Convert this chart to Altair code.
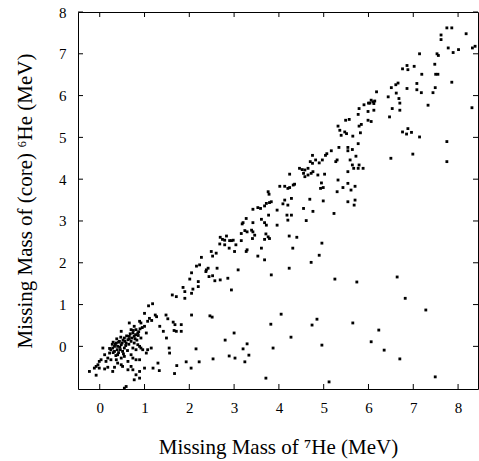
import altair as alt
import pandas as pd

# Tick values
x_ticks = [0, 1, 2, 3, 4, 5, 6, 7, 8]
y_ticks = [0, 1, 2, 3, 4, 5, 6, 7, 8]

# Events: (Missing Mass of 7He, Missing Mass of core 6He) in MeV
pts_cluster = [
    (1.62, 1.23), (1.71, 1.19), (1.09, 0.97), (1.18, 1.02), (1.00, 0.79), (1.11, 0.67),
    (1.16, 0.62), (1.24, 0.75), (1.27, 0.71), (1.48, 0.75), (1.52, 0.66), (1.64, 0.58),
    (1.68, 0.52), (0.66, 0.56), (0.92, 0.56), (0.89, 0.60), (0.77, 0.48), (1.00, 0.48),
    (1.07, 0.60), (0.48, 0.36), (0.70, 0.40), (0.74, 0.32), (0.81, 0.40), (0.85, 0.32),
    (0.77, 0.24), (1.34, 0.48), (1.42, 0.36), (1.49, 0.20), (1.55, -0.04), (1.56, -0.16),
    (1.71, 0.36), (1.66, 0.38), (1.82, 0.36), (1.82, 0.52), (1.72, -0.46), (1.67, -0.65),
    (1.04, 0.32), (0.92, 0.20), (0.55, 0.20), (0.63, 0.16), (0.66, 0.24), (0.70, 0.12),
    (0.59, 0.08), (0.44, 0.12), (0.37, 0.08), (0.40, 0.00), (0.33, 0.00), (0.29, -0.04),
    (0.48, 0.04), (0.39, -0.08), (0.46, -0.08), (0.55, -0.04), (0.51, -0.12), (0.25, -0.08),
    (0.22, -0.16), (0.33, -0.12), (0.77, 0.08), (0.85, 0.04), (0.89, 0.00), (0.74, -0.04),
    (0.81, -0.08), (0.92, -0.04), (0.96, -0.08), (1.07, -0.08), (1.04, -0.16), (0.07, -0.04),
    (0.11, -0.20), (0.18, -0.28), (0.25, -0.32), (0.14, -0.36), (0.03, -0.32), (-0.01, -0.36),
    (-0.04, -0.44), (-0.08, -0.48), (-0.12, -0.52), (-0.01, -0.52), (0.40, -0.20), (0.48, -0.28),
    (0.37, -0.32), (0.55, -0.24), (0.63, -0.36), (0.70, -0.20), (0.74, -0.28), (0.81, -0.32),
    (0.89, -0.32), (0.40, -0.40), (0.48, -0.44), (0.51, -0.48), (0.70, -0.48), (0.63, -0.56),
    (1.30, -0.40), (1.33, -0.58), (1.00, -0.52), (0.89, -0.60), (0.74, -0.56), (0.81, -0.68),
    (0.77, -0.80), (0.89, -0.76), (1.15, -0.04), (1.19, -0.52), (0.29, -0.60), (0.18, -0.50),
    (0.33, -0.50), (0.11, -0.54), (-0.23, -0.60), (-0.08, -0.69), (0.59, -0.96), (0.55, -1.00),
    (0.35, 0.05), (0.42, 0.10), (0.45, -0.02), (0.50, 0.08), (0.52, 0.15), (0.58, 0.02),
    (0.60, 0.25), (0.65, 0.05), (0.68, 0.30), (0.72, 0.20), (0.75, 0.38), (0.80, 0.28),
    (0.83, 0.15), (0.87, 0.35), (0.90, 0.42), (0.30, 0.10), (0.38, 0.18), (0.28, 0.05),
    (0.22, -0.05), (0.42, -0.15), (0.56, 0.12), (0.62, -0.10), (0.66, 0.18), (0.79, 0.18),
    (0.86, 0.26), (0.95, 0.45), (0.53, -0.18), (0.47, 0.22), (0.36, -0.22), (0.30, -0.15),
]

pts_lowband = [
    (3.42, 3.28), (3.53, 3.32), (3.59, 3.30), (3.68, 3.36), (3.72, 3.42), (3.79, 3.44),
    (3.83, 3.46), (3.77, 3.14), (3.96, 3.26), (3.61, 3.04), (3.27, 3.06), (3.20, 2.96),
    (3.18, 2.93), (3.42, 2.96), (3.68, 2.96), (3.72, 2.90), (3.96, 2.90), (3.24, 2.77),
    (3.29, 2.74), (3.39, 2.78), (3.42, 2.74), (3.46, 2.66), (3.16, 2.70), (3.41, 2.58),
    (3.71, 2.69), (3.76, 2.62), (3.68, 2.56), (3.79, 2.58), (2.69, 2.61), (2.74, 2.56),
    (2.83, 2.64), (2.79, 2.54), (2.90, 2.53), (2.94, 2.53), (2.98, 2.54), (2.68, 2.45),
    (2.79, 2.43), (2.89, 2.35), (3.04, 2.43), (3.16, 2.53), (3.01, 2.27), (3.27, 2.27),
    (3.29, 2.31), (3.61, 2.35), (3.53, 2.16), (3.68, 2.07), (3.83, 1.71), (2.49, 2.27),
    (2.60, 2.23), (2.52, 2.16), (2.27, 2.13), (2.16, 1.92), (2.23, 1.95), (2.37, 1.79),
    (2.38, 1.83), (2.42, 1.87), (2.62, 1.87), (3.09, 1.83), (2.05, 1.76), (2.52, 1.69),
    (2.44, 1.67), (2.57, 1.57), (2.69, 1.59), (2.86, 1.63), (2.01, 1.61), (2.20, 1.55),
    (2.08, 1.37), (2.20, 1.43), (1.86, 1.41), (1.90, 1.31), (2.94, 1.35), (1.90, 1.15),
    (2.05, 1.27),
]

pts_lower = [
    (2.05, 0.75), (2.46, 0.73), (2.51, 0.70), (3.00, 0.32), (2.80, 0.15), (3.29, 0.06),
    (3.20, -0.06), (3.33, -0.21), (3.24, -0.37), (3.02, -0.28), (2.89, -0.23), (2.53, -0.30),
    (2.22, -0.37), (1.93, -0.37), (2.15, -0.06), (2.04, -0.52), (3.71, -0.76), (3.82, 0.53),
    (4.05, 0.77), (4.27, 0.22), (3.87, -0.04), (4.90, 2.18), (4.72, 2.01), (4.23, 1.87),
    (5.25, 1.61), (5.74, 1.54), (6.64, 1.66), (6.82, 1.15), (7.28, 0.87), (4.85, 0.65),
    (4.74, 0.51), (5.65, 0.56), (6.23, 0.39), (4.96, 0.03), (6.06, 0.11), (6.35, -0.09),
    (6.70, -0.30), (5.12, -0.85), (7.49, -0.73),
]

pts_midband = [
    (4.23, 2.64), (4.40, 2.61), (4.31, 2.35), (4.96, 2.47), (5.23, 3.18), (4.76, 3.23),
    (4.61, 3.01), (4.18, 3.14), (4.28, 3.14), (4.20, 3.02),
    (5.49, 5.41), (5.57, 5.43), (5.32, 5.27), (5.36, 5.17), (5.39, 5.05), (5.47, 5.13),
    (5.51, 5.09), (5.34, 4.76), (5.54, 4.76), (5.54, 4.68), (5.17, 4.68), (5.07, 4.61),
    (5.04, 4.57), (4.97, 4.46), (4.90, 4.39), (4.82, 4.46), (4.75, 4.57), (4.70, 4.42),
    (4.75, 4.38), (5.27, 4.42), (5.30, 4.46), (4.65, 4.26), (4.58, 4.22), (4.46, 4.26),
    (4.52, 4.23), (4.55, 4.14), (4.58, 4.06), (4.65, 4.10), (4.72, 4.14), (4.76, 4.18),
    (4.87, 4.10), (5.02, 4.12), (4.24, 4.12), (4.95, 3.91), (4.99, 3.80), (4.93, 3.78),
    (5.32, 3.98), (5.54, 3.90), (5.54, 4.18), (5.30, 3.70), (5.43, 3.80), (4.35, 3.88),
    (4.32, 3.86), (4.24, 3.80), (4.20, 3.78), (4.13, 3.83), (4.02, 3.83), (3.76, 3.70),
    (3.78, 3.64), (4.13, 3.50), (4.28, 3.54), (4.09, 3.41), (4.20, 3.38), (4.69, 3.52),
    (4.99, 3.48), (4.55, 3.30), (5.54, 3.46),
]

pts_upper = [
    (7.14, 7.00), (7.53, 7.00), (7.56, 6.96), (7.48, 6.75), (6.76, 6.64), (6.86, 6.72),
    (6.88, 6.62), (7.02, 6.70), (7.19, 6.51), (7.50, 6.51), (7.55, 6.51), (6.66, 6.30),
    (6.61, 6.26), (6.51, 6.19), (7.08, 6.29), (7.08, 6.14), (7.18, 6.07), (7.49, 6.19),
    (7.44, 6.07), (6.86, 6.17), (6.18, 6.09), (6.62, 6.06), (6.68, 5.93), (6.70, 5.82),
    (6.44, 5.97), (6.06, 5.89), (6.10, 5.85), (6.03, 5.82), (6.12, 5.81), (6.14, 5.87),
    (5.90, 5.78), (6.00, 5.82), (5.79, 5.69), (6.53, 5.69), (6.70, 5.65), (7.33, 5.77),
    (5.99, 5.62), (6.12, 5.65), (5.77, 5.55), (6.47, 5.49), (5.99, 5.41), (6.06, 5.38),
    (5.84, 5.31), (5.79, 5.27), (5.82, 5.11), (5.65, 5.03), (5.77, 4.85), (5.64, 4.71),
    (6.76, 5.13), (6.85, 5.08), (6.96, 5.12), (6.88, 5.21), (7.14, 5.01),
    (7.75, 7.62), (7.86, 7.62), (7.62, 7.45), (7.62, 7.34), (8.18, 7.48), (7.78, 7.14),
    (8.01, 7.10), (7.89, 7.03), (8.32, 7.14), (8.38, 7.18), (7.86, 6.32), (8.31, 5.71),
    (5.72, 4.55), (5.59, 4.46), (5.64, 4.34), (5.67, 4.26), (5.77, 4.26), (5.79, 4.34),
    (5.88, 4.26), (5.70, 3.83), (5.61, 3.74), (5.70, 3.50), (5.68, 3.38), (6.50, 4.50),
    (6.99, 4.60), (7.75, 4.90), (7.75, 4.42),
]

all_pts = pts_cluster + pts_lowband + pts_lower + pts_midband + pts_upper
df = pd.DataFrame(all_pts, columns=["mm7", "mm6"])
xt = pd.DataFrame({"mm7": x_ticks})
yt = pd.DataFrame({"mm6": y_ticks})

W, H = 400, 377
TL = 5
FONT = "Liberation Serif"

xscale = alt.Scale(domain=[-0.485, 8.445], nice=False, zero=False)
yscale = alt.Scale(domain=[-1.02, 8.0], nice=False, zero=False)

x_axis = alt.Axis(
    values=x_ticks, ticks=False, domain=False, grid=False,
    labelFont=FONT, labelFontSize=15, labelColor="black", labelPadding=11,
    title="Missing Mass of \u2077He (MeV)", titleFont=FONT, titleFontSize=21,
    titleFontWeight="normal", titleColor="black", titleBaseline="alphabetic",
    titleY=64)
y_axis = alt.Axis(
    values=y_ticks, ticks=False, domain=False, grid=False,
    labelFont=FONT, labelFontSize=15, labelColor="black", labelPadding=12,
    title="Missing Mass of (core) \u2076He (MeV)", titleFont=FONT, titleFontSize=21,
    titleFontWeight="normal", titleColor="black", titleBaseline="alphabetic",
    titleAngle=270, titleAlign="center", titleX=-47, titleY=H / 2)

X = alt.X("mm7:Q", scale=xscale, axis=x_axis)
Y = alt.Y("mm6:Q", scale=yscale, axis=y_axis)

points = alt.Chart(df).mark_square(size=8, color="black", opacity=1, strokeWidth=0).encode(
    x=X, y=Y)

bottom_ticks = alt.Chart(xt).mark_rule(color="black", strokeWidth=1).encode(
    x=X, y=alt.value(H), y2=alt.value(H - TL))
top_ticks = alt.Chart(xt).mark_rule(color="black", strokeWidth=1).encode(
    x=X, y=alt.value(0), y2=alt.value(TL))
left_ticks = alt.Chart(yt).mark_rule(color="black", strokeWidth=1).encode(
    y=Y, x=alt.value(0), x2=alt.value(TL))
right_ticks = alt.Chart(yt).mark_rule(color="black", strokeWidth=1).encode(
    y=Y, x=alt.value(W), x2=alt.value(W - TL))

chart = alt.layer(points, bottom_ticks, top_ticks, left_ticks, right_ticks).properties(
    width=W, height=H,
    autosize=alt.AutoSizeParams(type="none"),
    padding={"left": 78, "top": 12, "right": 1, "bottom": 72},
    background="white",
).configure_view(stroke="black", strokeWidth=1)

chart.save("out.html", embed_options={"renderer": "svg", "actions": False})
